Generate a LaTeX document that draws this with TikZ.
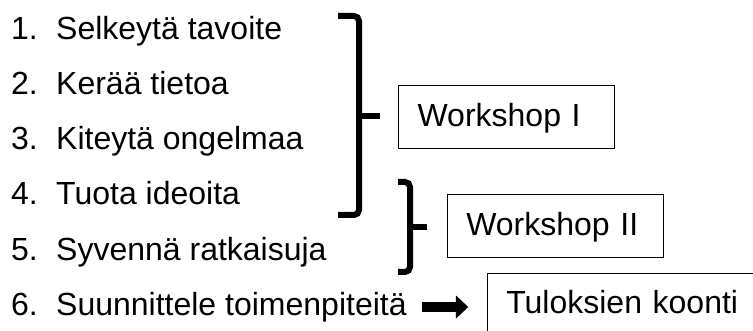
\documentclass[tikz,border=0pt]{standalone}
\usepackage{fontspec}
\setmainfont{Liberation Sans}
\usetikzlibrary{arrows.meta}
\begin{document}
\begin{tikzpicture}[x=1pt,y=-1pt,
  every node/.style={font=\fontsize{32}{38}\selectfont, inner sep=0pt},
  item/.style={anchor=base west},
  wbox/.style={draw=black, line width=1.2pt, anchor=north west, align=left, inner xsep=19pt, text height=23pt, text depth=4pt},
  brace/.style={line width=6pt, rounded corners=5pt},
  bigarrow/.style={line width=10pt, -{Triangle[length=12.5pt,width=22.6pt]}}]
\useasboundingbox (0,0) rectangle (753,331);
\clip (0,0) rectangle (753,331);
\node[item] (l1) at (11,39.3) {\makebox[45pt][l]{1.}Selkeytä tavoite};
\node[item] (l2) at (11,94.5) {\makebox[45pt][l]{2.}Kerää tietoa};
\node[item] (l3) at (11,149.7) {\makebox[45pt][l]{3.}Kiteytä ongelmaa};
\node[item] (l4) at (11,204.9) {\makebox[45pt][l]{4.}Tuota ideoita};
\node[item] (l5) at (11,260.1) {\makebox[45pt][l]{5.}Syvennä ratkaisuja};
\node[item] (l6) at (11,315.3) {\makebox[45pt][l]{6.}Suunnittele toimenpiteitä};
\node[wbox, text width=178pt, minimum height=63pt] (w1) at (398,85) {Workshop I};
\node[wbox, text width=178pt, minimum height=62.7pt] (w2) at (446.7,194) {Workshop II};
\node[wbox, text width=300pt, minimum height=60.4pt] (t) at (486.7,273.3) {Tuloksien koonti};
\draw[brace] (338,16) -- (359,16) -- (359,215) -- (338,215);
\draw[brace] (359,116) -- (380,116);
\draw[brace] (398,182) -- (410,182) -- (410,272) -- (398,272);
\draw[brace] (410,227) -- (427,227);
\draw[bigarrow, shorten >=18.4pt] ([xshift=15pt]l6.east) -- (l6.east -| t.west);
\end{tikzpicture}
\end{document}
